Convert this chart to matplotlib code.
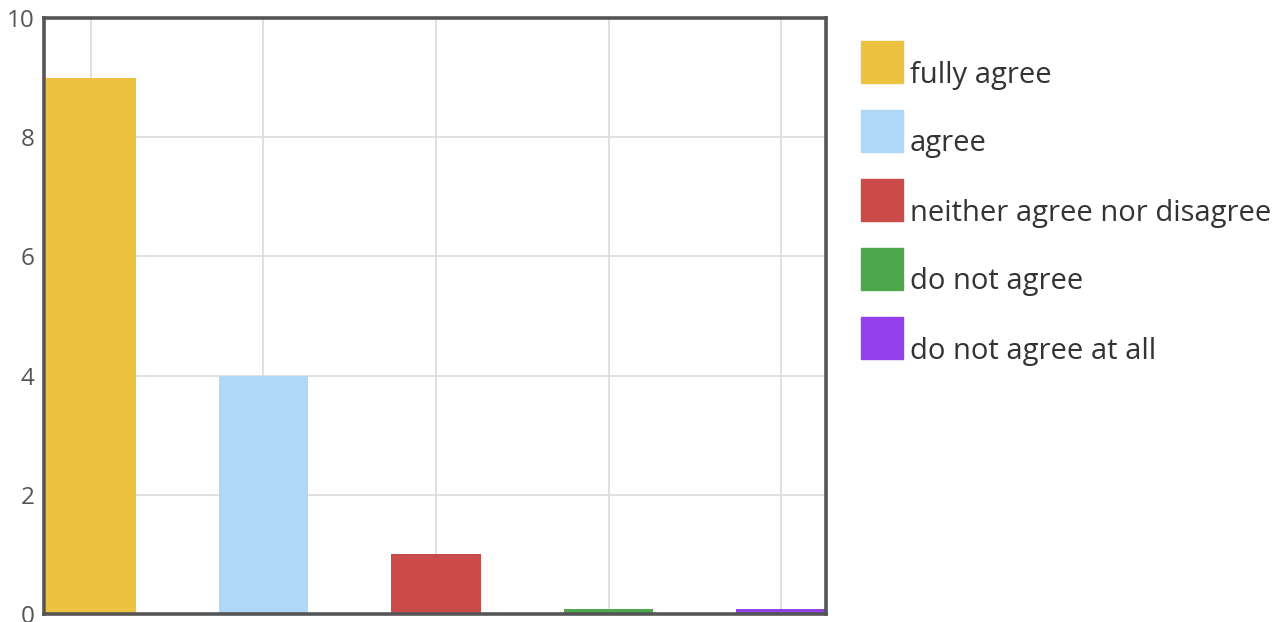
import matplotlib
matplotlib.use("Agg")
import matplotlib.pyplot as plt
from matplotlib.patches import Rectangle

# survey answers (count of responses)
labels = ["fully agree", "agree", "neither agree nor disagree",
          "do not agree", "do not agree at all"]
counts = [9, 4, 1, 0, 0]
colors = ["#EDC240", "#AFD8F8", "#CB4B4B", "#4DA74D", "#9440ED"]
yticks = [0, 2, 4, 6, 8, 10]

plt.rcParams['font.family'] = ['Open Sans', 'DejaVu Sans']

W, H = 1282, 622
fig = plt.figure(figsize=(W / 100, H / 100), dpi=100)
ax = fig.add_axes([44 / W, 1 - 614 / H, (826 - 44) / W, (614 - 18) / H])

# zero answers still show a thin strip above the axis, like flot does
shown = [max(c, 0.085) for c in counts]
x = list(range(len(counts)))
ax.bar(x, shown, width=0.52, color=colors, linewidth=0, zorder=3)

ax.set_xlim(-0.272, 4.26)
ax.set_ylim(0, 10)
ax.set_xticks(x)
ax.set_xticklabels([])
ax.set_yticks(yticks)
ax.tick_params(axis='x', length=0)
ax.tick_params(axis='y', length=0, pad=7, labelsize=17.5, labelcolor='#555555')
ax.grid(True, color='#dddddd', linewidth=1.3, zorder=0)
for s in ax.spines.values():
    s.set_color('#555555')
    s.set_linewidth(2.6)
    s.set_zorder(5)

# legend drawn by hand, flot style
bx, by0, step, sz = 861, 41, 69, 42
for i, (lab, c) in enumerate(zip(labels, colors)):
    top = by0 + i * step
    fig.patches.append(Rectangle((bx / W, 1 - (top + sz) / H), sz / W, sz / H,
                                 transform=fig.transFigure, color=c))
    fig.text(910 / W, 1 - (top + 34) / H, lab, fontsize=21,
             color='#333333', va='center', ha='left')

fig.savefig("out.png", dpi=100, facecolor='white')
